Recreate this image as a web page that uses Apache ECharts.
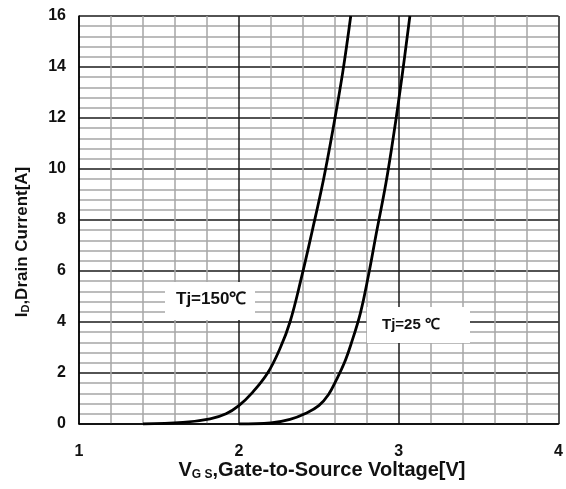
<!DOCTYPE html>
<html>
<head>
<meta charset="utf-8">
<script src="https://cdn.jsdelivr.net/npm/echarts@6/dist/echarts.min.js"></script>
<style>
  html, body { margin: 0; padding: 0; background: #fff; }
  #chart { width: 566px; height: 489px; }
</style>
</head>
<body>
<div id="chart"></div>
<script>
// Transfer characteristics: drain current vs gate-source voltage
const vgsTj150 = [1.40, 1.65, 1.82, 1.92, 2.00, 2.08, 2.18, 2.26, 2.32, 2.39, 2.46, 2.53, 2.59, 2.65, 2.70];
const idTj150  = [0.00, 0.06, 0.20, 0.40, 0.72, 1.20, 2.00, 3.00, 4.00, 5.70, 7.60, 9.60, 11.60, 13.80, 16.00];

const vgsTj25 = [2.00, 2.20, 2.32, 2.42, 2.50, 2.56, 2.61, 2.66, 2.70, 2.76, 2.81, 2.86, 2.92, 2.97, 3.02, 3.07];
const idTj25  = [0.00, 0.04, 0.18, 0.42, 0.72, 1.15, 1.73, 2.40, 3.10, 4.34, 5.80, 7.48, 9.44, 11.40, 13.60, 16.00];

const xTicks = [1, 2, 3, 4];
const yTicks = [0, 2, 4, 6, 8, 10, 12, 14, 16];

const curveLabels = ['Tj=150℃', 'Tj=25 ℃'];

const FONT = '"Liberation Sans", Arial, sans-serif';

function pairs(xs, ys) { return xs.map((x, i) => [x, ys[i]]); }

const chart = echarts.init(document.getElementById('chart'), null, { renderer: 'canvas' });

const majorLine = { show: true, lineStyle: { color: '#1a1a1a', width: 1.5 } };
const minorLine = { show: true, lineStyle: { color: '#a6a6a6', width: 1.5 } };

chart.setOption({
  animation: false,
  backgroundColor: '#fff',
  grid: { left: 79, right: 7, top: 16, bottom: 65, containLabel: false },
  xAxis: {
    type: 'value',
    min: xTicks[0], max: xTicks[xTicks.length - 1], interval: 1,
    axisLine: { show: true, lineStyle: { color: '#000', width: 1.5 } },
    axisTick: { show: false },
    axisLabel: { color: '#111', fontSize: 16, fontWeight: 'bold', fontFamily: FONT, margin: 20,
                 formatter: v => xTicks.includes(v) ? String(v) : '' },
    splitLine: majorLine,
    minorTick: { show: false, splitNumber: 5 },
    minorSplitLine: minorLine
  },
  yAxis: {
    type: 'value',
    min: yTicks[0], max: yTicks[yTicks.length - 1], interval: 2,
    axisLine: { show: true, lineStyle: { color: '#000', width: 1.5 } },
    axisTick: { show: false },
    axisLabel: { color: '#111', fontSize: 16, fontWeight: 'bold', fontFamily: FONT, margin: 13,
                 formatter: v => yTicks.includes(v) ? String(v) : '' },
    splitLine: majorLine,
    minorTick: { show: false, splitNumber: 5 },
    minorSplitLine: minorLine
  },
  series: [
    {
      name: curveLabels[0], type: 'line', data: pairs(vgsTj150, idTj150),
      smooth: 0.4, showSymbol: false, clip: true,
      lineStyle: { color: '#000', width: 2.8 }, z: 5
    },
    {
      name: curveLabels[1], type: 'line', data: pairs(vgsTj25, idTj25),
      smooth: 0.4, showSymbol: false, clip: true,
      lineStyle: { color: '#000', width: 2.8 }, z: 5
    }
  ],
  graphic: [
    // curve annotations on white boxes
    { type: 'rect', shape: { x: 165, y: 282, width: 90, height: 38 }, style: { fill: '#fff' }, z: 10 },
    { type: 'text', x: 176, y: 299, z: 11,
      style: { text: curveLabels[0], fill: '#111', font: 'bold 17px ' + FONT, textVerticalAlign: 'middle' } },
    { type: 'rect', shape: { x: 367, y: 307, width: 103, height: 36 }, style: { fill: '#fff' }, z: 10 },
    { type: 'text', x: 382, y: 325, z: 11,
      style: { text: curveLabels[1], fill: '#111', font: 'bold 15px ' + FONT, textVerticalAlign: 'middle' } },
    // axis titles
    { type: 'text', x: 322, y: 470, z: 11,
      style: {
        text: 'V{s|G S},Gate-to-Source Voltage[V]',
        textAlign: 'center', textVerticalAlign: 'middle',
        font: 'bold 20px ' + FONT, fill: '#111',
        rich: { s: { fontSize: 12, fontWeight: 'bold', fontFamily: FONT, fill: '#111', padding: [9, 0, 0, 0] } }
      } },
    { type: 'text', x: 22, y: 242, rotation: Math.PI / 2, z: 11,
      style: {
        text: 'I{s|D},Drain Current[A]',
        textAlign: 'center', textVerticalAlign: 'middle',
        font: 'bold 17px ' + FONT, fill: '#111',
        rich: { s: { fontSize: 11, fontWeight: 'bold', fontFamily: FONT, fill: '#111', padding: [8, 0, 0, 0] } }
      } }
  ]
});
</script>
</body>
</html>
